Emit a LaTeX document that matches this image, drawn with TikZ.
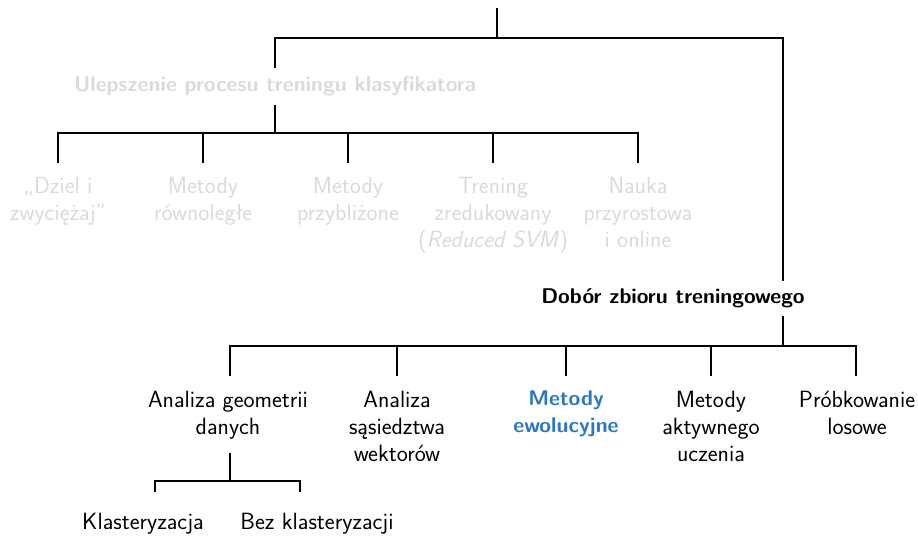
\documentclass[tikz,border=0pt]{standalone}
\usepackage{xcolor}
\definecolor{faded}{RGB}{218,218,218}
\definecolor{evoblue}{RGB}{45,118,196}
\begin{document}
\begin{tikzpicture}[x=1pt,y=-1pt,
  every node/.style={font=\sffamily\fontsize{23.5}{27}\selectfont, align=center, inner xsep=0pt, inner ysep=0pt},
  edge/.style={draw=black, line width=1.8pt},
  dim/.style={text=faded},
  head/.style={font=\sffamily\bfseries\fontsize{21.3}{27}\selectfont},
]
\useasboundingbox (0,0) rectangle (918,536);

% --- first level: root stem and split into two branches
\coordinate (root) at (497,8);
\coordinate (bar0) at (497,38);

% --- left branch: training-process improvements
\node[head, dim, anchor=base] (ulep) at (275,91) {Ulepszenie procesu treningu klasyfikatora};
\coordinate (ulep-in)  at (275,68);
\coordinate (ulep-out) at (275,105);
\coordinate (bar1) at (275,133);

\node[dim, anchor=north] (dziel)  at (58,177)  {„Dziel i\\zwyciężaj”};
\node[dim, anchor=north] (rown)   at (203,177) {Metody\\równoległe};
\node[dim, anchor=north] (przyb)  at (348,177) {Metody\\przybliżone};
\node[dim, anchor=north] (reduk)  at (493,177) {Trening\\zredukowany\\(\textit{Reduced SVM})};
\node[dim, anchor=north] (online) at (638,177) {Nauka\\przyrostowa\\i online};

\foreach \n/\x in {dziel/58, rown/203, przyb/348, reduk/493, online/638}
  \coordinate (\n-in) at (\x,163);

% --- right branch: training-set selection
\node[head, anchor=base] (dobor) at (673,303) {Dobór zbioru treningowego};
\coordinate (dobor-in)  at (783,281);
\coordinate (dobor-out) at (783,316);
\coordinate (bar2) at (783,346);

\node[anchor=north] (geom)  at (228,391) {Analiza geometrii\\danych};
\node[anchor=north] (sas)   at (397,391) {Analiza\\sąsiedztwa\\wektorów};
\node[anchor=north, text=evoblue, font=\sffamily\bfseries\fontsize{21.3}{27}\selectfont] (evo) at (566,391) {Metody\\ewolucyjne};
\node[anchor=north] (aktyw) at (711,391) {Metody\\aktywnego\\uczenia};
\node[anchor=north] (losow) at (857,391) {Próbkowanie\\losowe};

\foreach \n/\x in {geom/230, sas/397, evo/566, aktyw/711, losow/856}
  \coordinate (\n-in) at (\x,376);

% --- geometry-based methods
\coordinate (geom-out) at (230,453);
\coordinate (bar3) at (230,481);
\node[anchor=base] (klast) at (143,529) {Klasteryzacja};
\node[anchor=base] (bezk)  at (317,529) {Bez klasteryzacji};
\coordinate (klast-in) at (155,492);
\coordinate (bezk-in)  at (300,492);

% --- connectors
\draw[edge] (root) -- (bar0);
\draw[edge] (ulep-in) |- (bar0) -| (dobor-in);

\draw[edge] (ulep-out) -- (bar1);
\draw[edge] (dziel-in) |- (bar1) -| (online-in);
\foreach \n in {rown, przyb, reduk}
  \draw[edge] (bar1 -| \n-in) -- (\n-in);

\draw[edge] (dobor-out) -- (bar2);
\draw[edge] (geom-in) |- (bar2) -| (losow-in);
\foreach \n in {sas, evo, aktyw}
  \draw[edge] (bar2 -| \n-in) -- (\n-in);

\draw[edge] (geom-out) -- (bar3);
\draw[edge] (klast-in) |- (bar3) -| (bezk-in);
\end{tikzpicture}
\end{document}
